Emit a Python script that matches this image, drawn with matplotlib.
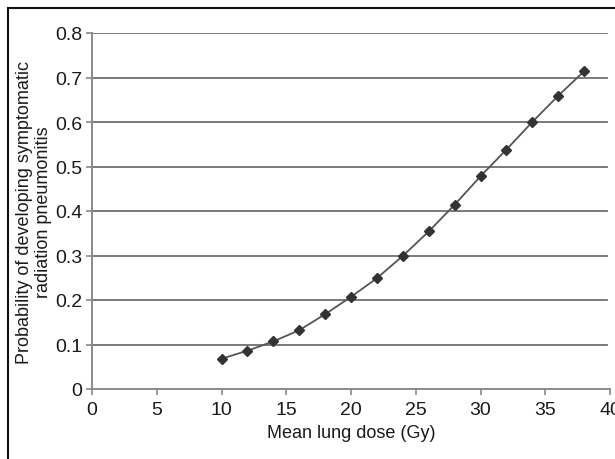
import matplotlib
matplotlib.use("Agg")
import matplotlib.pyplot as plt
from matplotlib.patches import Rectangle

# mean lung dose (Gy) and probability of symptomatic pneumonitis
dose = [10, 12, 14, 16, 18, 20, 22, 24, 26, 28, 30, 32, 34, 36, 38]
prob = [0.068, 0.086, 0.107, 0.132, 0.168, 0.207, 0.249, 0.299,
        0.354, 0.414, 0.478, 0.538, 0.600, 0.659, 0.714]

x_ticks = [0, 5, 10, 15, 20, 25, 30, 35, 40]
y_ticks = [0, 0.1, 0.2, 0.3, 0.4, 0.5, 0.6, 0.7, 0.8]
y_tick_labels = ["0", "0.1", "0.2", "0.3", "0.4", "0.5", "0.6", "0.7", "0.8"]

plt.rcParams['font.family'] = ['Liberation Sans', 'DejaVu Sans']

fig = plt.figure(figsize=(6.15, 4.6), dpi=100)
ax = fig.add_axes([92/615, 1 - 390/460, (610 - 92)/615, (390 - 34)/460])

for y in y_ticks[1:]:
    ax.plot([0, 39.8], [y, y], color='#707070', lw=1.3, zorder=1)

ax.plot(dose, prob, color='#555555', lw=1.3, marker='D', ms=5,
        mfc='#333333', mec='#333333', zorder=3)

ax.set_xlim(0, 40)
ax.set_ylim(0, 0.8)
ax.set_xticks(x_ticks)
ax.set_yticks(y_ticks)
ax.set_yticklabels(y_tick_labels)

for s in ['top', 'right']:
    ax.spines[s].set_visible(False)
for s in ['left', 'bottom']:
    ax.spines[s].set_color('#8a8a8a')
    ax.spines[s].set_linewidth(1.4)

ax.tick_params(axis='both', colors='#8a8a8a', length=4, width=1.2,
               labelcolor='#1a1a1a', labelsize=14)
ax.tick_params(axis='x', pad=5)
ax.tick_params(axis='y', pad=3)

ax.set_xlabel("Mean lung dose (Gy)", fontsize=13, color='#1a1a1a', labelpad=4)
ax.set_ylabel("Probability of developing symptomatic\nradiation pneumonitis",
              fontsize=13, color='#1a1a1a', labelpad=2, linespacing=1.2)

fig.patches.append(Rectangle((8/615, -0.02), 1.05, 1 - 9/460 + 0.02,
                             transform=fig.transFigure, fill=False,
                             edgecolor='#111111', lw=1.5))

fig.savefig("out.png", dpi=100)
